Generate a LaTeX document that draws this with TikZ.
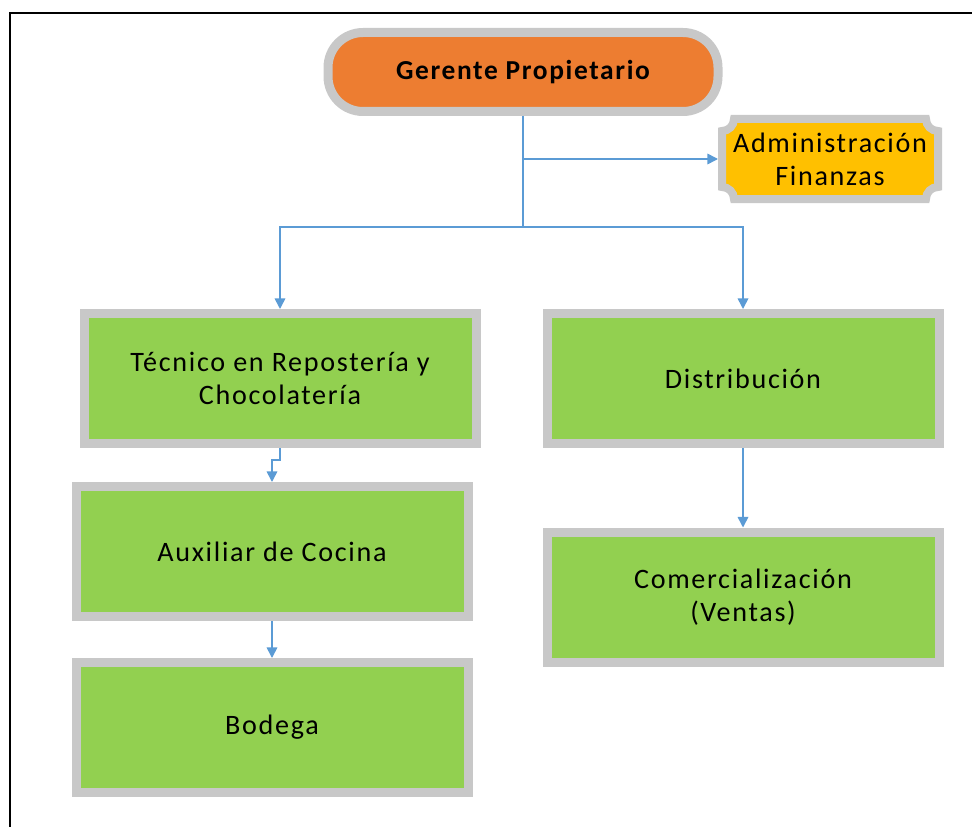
\documentclass[tikz,border=0pt]{standalone}
\usepackage{fontspec}
\setmainfont{Carlito}[LetterSpace=6]
\usetikzlibrary{arrows.meta}
\newdimen\pxu \pxu=0.025cm
\definecolor{orgorange}{HTML}{ED7D31}
\definecolor{orggreen}{HTML}{92D050}
\definecolor{orggold}{HTML}{FFC000}
\definecolor{orggray}{HTML}{C8C8C8}
\definecolor{orgblue}{HTML}{5B9BD5}
\begin{document}
\begin{tikzpicture}[x=1\pxu,y=-1\pxu,
  font=\fontsize{20}{23.5}\selectfont,
  unit/.style={draw=orggray,line width=9\pxu,fill=orggreen,minimum width=392\pxu,minimum height=130\pxu,align=center},
  link/.style={draw=orgblue,line width=1.6\pxu,-{Triangle[length=7.5pt,width=7.5pt]}}]
\useasboundingbox (0,0) rectangle (972,827);
\draw[line width=2.2\pxu] (972,13)--(10,13)--(10,827);
\node[draw=orggray,line width=9\pxu,fill=orgorange,rounded corners=35\pxu,minimum width=390\pxu,minimum height=79\pxu,font=\fontsize{19.5}{24}\selectfont\bfseries] (ger) at (523,72) {Gerente Propietario};
\draw[draw=orggray,line width=8\pxu,fill=orggold] (734,119)--(926,119) arc[start angle=180,end angle=270,radius=12\pxu]--(938,187) arc[start angle=90,end angle=180,radius=12\pxu]--(734,199) arc[start angle=0,end angle=90,radius=12\pxu]--(722,131) arc[start angle=270,end angle=360,radius=12\pxu]--cycle;
\node[minimum width=224\pxu,minimum height=88\pxu,inner sep=0pt,outer sep=0pt,align=center] (adm) at (830,159) {Administración\\Finanzas};
\node[unit] (tec) at (280,378.5) {Técnico en Repostería y\\Chocolatería};
\node[unit] (dist) at (743,378.5) {Distribución};
\node[unit] (aux) at (272,551.5) {Auxiliar de Cocina};
\node[unit] (bod) at (272,727.5) {Bodega};
\node[unit] (com) at (743,597) {Comercialización\\(Ventas)};
\coordinate (hub) at (523,227);
\draw[draw=orgblue,line width=1.6\pxu] (ger.south)--(hub);
\draw[link] (ger.south |- adm.west)--(adm.west);
\draw[link] (hub)-|(tec.north);
\draw[link] (hub)-|(dist.north);
\draw[link] (tec.south)--++(0,12)-|(aux.north);
\draw[link] (aux)--(bod);
\draw[link] (dist)--(com);
\end{tikzpicture}
\end{document}
